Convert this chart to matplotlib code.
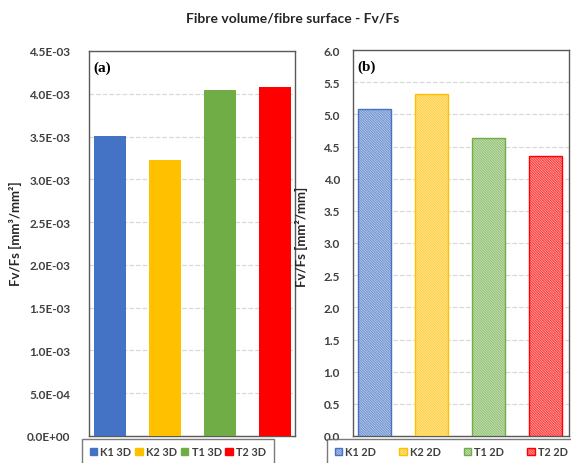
import matplotlib.pyplot as plt
from matplotlib.patches import Patch

# données
labels_3d = ['K1 3D', 'K2 3D', 'T1 3D', 'T2 3D']
values_3d = [3.51e-3, 3.23e-3, 4.04e-3, 4.08e-3]

labels_2d = ['K1 2D', 'K2 2D', 'T1 2D', 'T2 2D']
values_2d = [5.08, 5.31, 4.63, 4.35]

colors = ['#4472C4', '#FFC000', '#70AD47', '#FF0000']
hatch = '\\' * 20

plt.rcParams['font.family'] = ['Lato', 'DejaVu Sans']
plt.rcParams['hatch.linewidth'] = 0.5

fig = plt.figure(figsize=(5.71, 4.64), dpi=100)

fig.text(293 / 571, 0.96, 'Fibre volume/fibre surface - Fv/Fs', ha='center', va='center',
         fontsize=10, fontweight='bold', color='#262626')

tick_color = '#404040'
frame_color = '#595959'

# graphique (a)
ax1 = fig.add_axes([89 / 571, 1 - 437 / 464, 206 / 571, 385 / 464])
x = range(len(values_3d))
ax1.bar(x, values_3d, width=0.58, color=colors, zorder=3)
ax1.set_xlim(-0.38, 3.36)
ax1.set_ylim(0, 4.5e-3)
ax1.set_yticks([i * 0.5e-3 for i in range(10)])
ax1.set_yticklabels(['0.0E+00', '5.0E-04', '1.0E-03', '1.5E-03', '2.0E-03', '2.5E-03',
                     '3.0E-03', '3.5E-03', '4.0E-03', '4.5E-03'])
ax1.set_xticks([])
ax1.set_ylabel('Fv/Fs [mm³/mm²]', fontsize=9.5, fontweight='bold', color='#262626')
ax1.yaxis.set_label_coords(-0.325, 0.527)
ax1.text(0.02, 0.975, '(a)', transform=ax1.transAxes, ha='left', va='top',
         fontsize=11, fontweight='bold', family='Liberation Serif')
ax1.tick_params(axis='y', pad=13.5)

# graphique (b)
ax2 = fig.add_axes([353 / 571, 1 - 437 / 464, 216 / 571, 386 / 464])
ax2.bar(x, values_2d, width=0.58, color='white', edgecolor=colors, hatch=hatch,
        linewidth=1.0, zorder=3)
ax2.set_xlim(-0.38, 3.41)
ax2.set_ylim(0, 6.0)
ax2.set_yticks([i * 0.5 for i in range(13)])
ax2.set_yticklabels(['%.1f' % (i * 0.5) for i in range(13)])
ax2.set_xticks([])
ax2.set_ylabel('Fv/Fs [mm²/mm]', fontsize=9.5, fontweight='bold', color='#262626')
ax2.yaxis.set_label_coords(-0.208, 0.518)
ax2.text(0.02, 0.975, '(b)', transform=ax2.transAxes, ha='left', va='top',
         fontsize=11, fontweight='bold', family='Liberation Serif')
ax2.tick_params(axis='y', pad=9.5)

for ax in [ax1, ax2]:
    ax.grid(axis='y', linestyle='--', color='#d9d9d9', linewidth=0.9, zorder=0)
    ax.tick_params(axis='y', length=0, labelsize=8.5, labelcolor=tick_color)
    for lab in ax.get_yticklabels():
        lab.set_fontweight('bold')
    for s in ax.spines.values():
        s.set_color(frame_color)
        s.set_linewidth(1.0)

# légendes
h1 = [Patch(facecolor=c, edgecolor=c) for c in colors]
leg1 = fig.legend(h1, labels_3d, loc='lower left', bbox_to_anchor=(82 / 571, -2 / 464),
                  ncol=4, frameon=True, fancybox=False, fontsize=7.8, handlelength=0.7,
                  handleheight=0.7, handletextpad=0.3, columnspacing=0.35, borderpad=0.7,
                  borderaxespad=0)
leg1.get_frame().set_edgecolor(frame_color)
leg1.get_frame().set_linewidth(1.0)
for t in leg1.get_texts():
    t.set_fontweight('bold')
    t.set_color(tick_color)

h2 = [Patch(facecolor='white', edgecolor=c, hatch=hatch) for c in colors]
leg2 = fig.legend(h2, labels_2d, loc='lower left', bbox_to_anchor=(327 / 571, -2 / 464),
                  ncol=4, frameon=True, fancybox=False, fontsize=7.8, handlelength=0.7,
                  handleheight=0.7, handletextpad=0.3, columnspacing=2.1, borderpad=0.7,
                  borderaxespad=0)
leg2.get_frame().set_edgecolor(frame_color)
leg2.get_frame().set_linewidth(1.0)
for t in leg2.get_texts():
    t.set_fontweight('bold')
    t.set_color(tick_color)

fig.savefig('out.png', dpi=100)
